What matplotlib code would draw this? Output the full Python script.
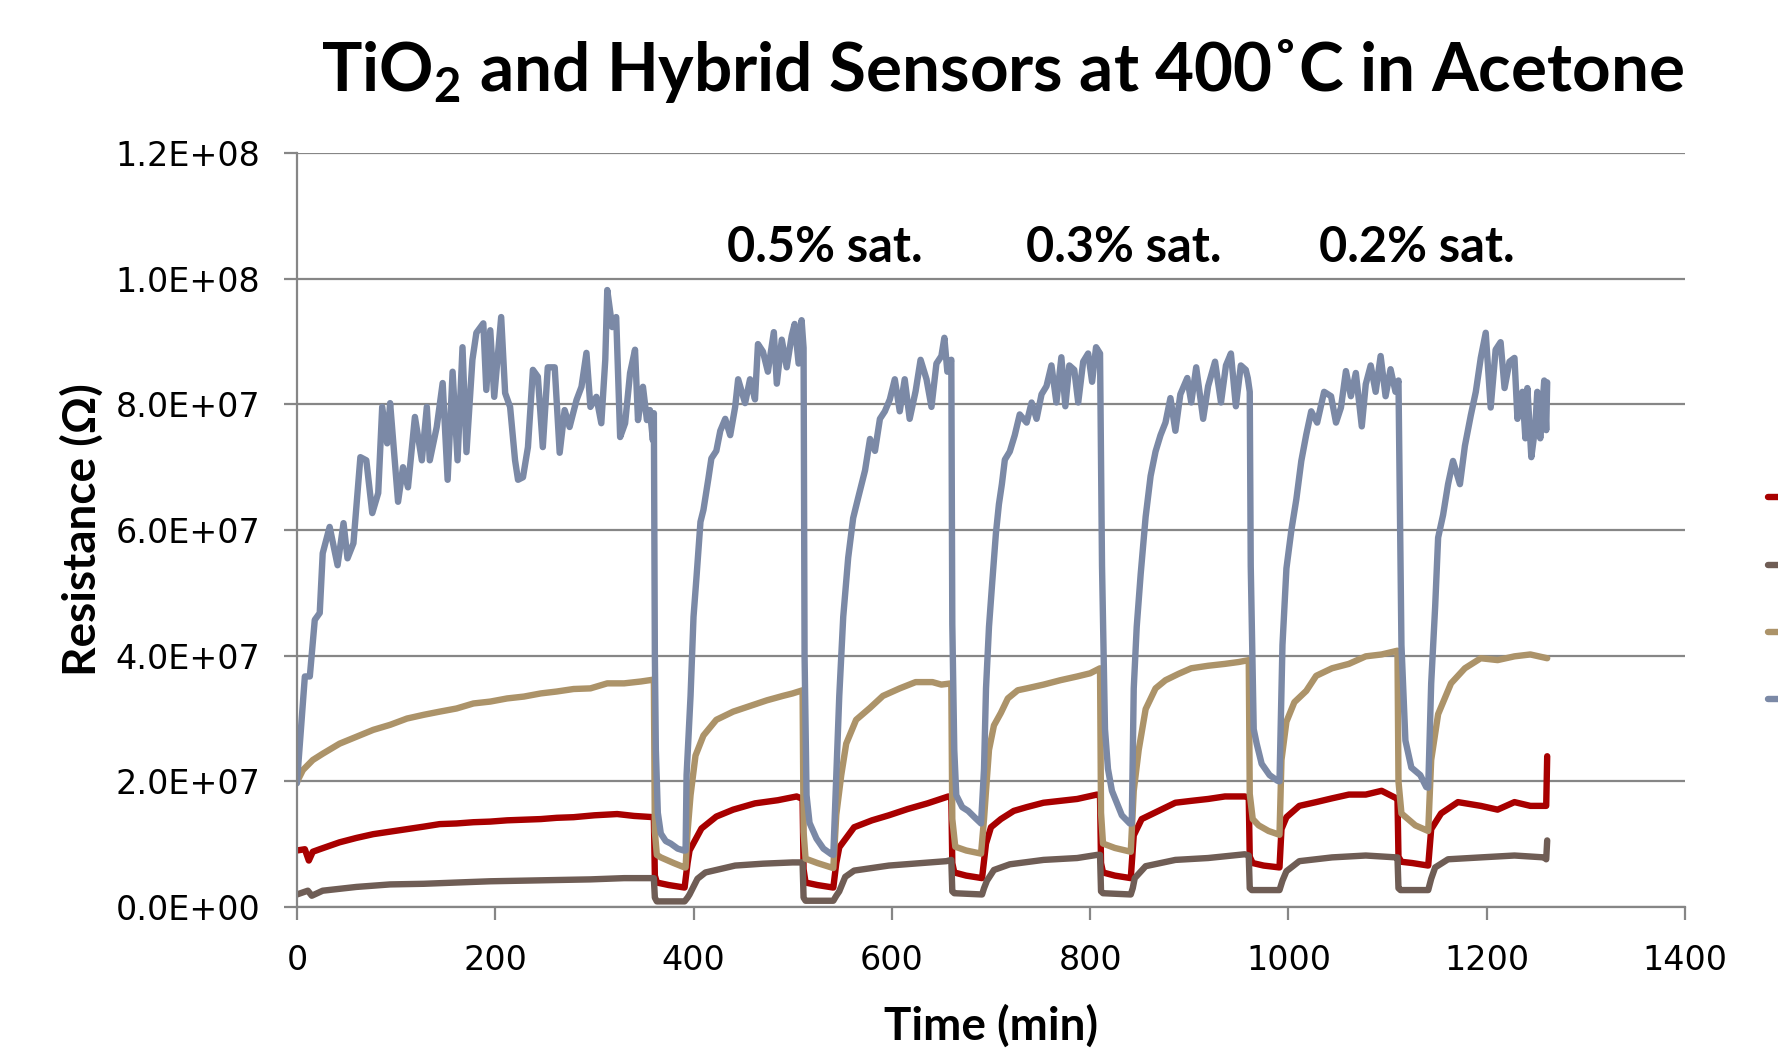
import numpy as np
import matplotlib
matplotlib.use("Agg")
import matplotlib.pyplot as plt
from matplotlib.ticker import FuncFormatter, MultipleLocator

# values, resistance in MOhm, time in min
red_t = [0, 8, 12, 16, 23, 43, 60, 77, 94, 111, 128, 144, 161, 178, 195, 212, 229, 246, 262, 279, 300, 323, 340, 360,
         361, 363, 375, 391,
         394, 396, 408, 423, 440, 462, 485, 504, 510,
         511, 513, 525, 541,
         544, 547, 562, 580, 597, 616, 636, 657, 660,
         661, 663, 675, 691,
         695, 700, 710, 723, 736, 753, 770, 787, 807, 810,
         811, 813, 825, 841,
         844, 852, 869, 886, 902, 919, 936, 956, 960,
         961, 964, 975, 991,
         993, 998, 1011, 1028, 1044, 1061, 1078, 1094, 1109, 1110,
         1111, 1114, 1125, 1141,
         1144, 1154, 1171, 1194, 1211, 1228, 1244, 1260, 1261]
red_v = [9.0, 9.2, 7.4, 8.8, 9.2, 10.3, 11.0, 11.6, 12.0, 12.4, 12.8, 13.2, 13.3, 13.5, 13.6, 13.8, 13.9, 14.0, 14.2, 14.3, 14.6, 14.8, 14.5, 14.3,
         5.0, 3.9, 3.5, 3.1,
         7.0, 9.0, 12.5, 14.4, 15.5, 16.5, 17.0, 17.6, 17.2,
         6.0, 3.9, 3.5, 3.1,
         7.0, 9.5, 12.7, 13.8, 14.6, 15.6, 16.5, 17.6, 17.4,
         7.0, 5.5, 5.0, 4.6,
         10.1, 12.7, 14.0, 15.3, 15.9, 16.6, 16.9, 17.2, 17.9, 17.6,
         7.0, 5.5, 5.0, 4.6,
         11.4, 14.0, 15.3, 16.6, 16.9, 17.2, 17.6, 17.6, 17.4,
         8.0, 7.0, 6.6, 6.3,
         12.4, 14.3, 16.1, 16.7, 17.3, 17.9, 17.9, 18.5, 17.3, 17.3,
         8.0, 7.2, 7.0, 6.6,
         12.4, 14.9, 16.7, 16.1, 15.5, 16.7, 16.1, 16.1, 24.0]

brown_t = [0, 11, 15, 26, 60, 94, 128, 161, 195, 229, 262, 296, 330, 360,
           361, 363, 391,
           394, 396, 404, 412, 442, 470, 500, 510,
           511, 513, 541,
           544, 547, 553, 562, 597, 630, 655, 660,
           661, 663, 691,
           693, 696, 703, 719, 753, 787, 807, 810,
           811, 813, 841,
           843, 845, 856, 886, 919, 956, 960,
           961, 963, 991,
           994, 998, 1011, 1044, 1078, 1109, 1110,
           1111, 1113, 1141,
           1144, 1148, 1161, 1194, 1228, 1258, 1260, 1261]
brown_v = [2.0, 2.6, 1.8, 2.6, 3.2, 3.6, 3.7, 3.9, 4.1, 4.2, 4.3, 4.4, 4.6, 4.6,
           1.5, 0.9, 0.9,
           1.5, 2.0, 4.5, 5.5, 6.6, 6.9, 7.1, 7.1,
           1.5, 1.0, 1.0,
           1.8, 2.5, 4.8, 5.8, 6.6, 7.0, 7.3, 7.5,
           2.5, 2.2, 2.0,
           3.0, 4.2, 5.9, 6.8, 7.5, 7.8, 8.3, 8.3,
           2.5, 2.2, 2.0,
           3.0, 4.6, 6.5, 7.5, 7.8, 8.4, 8.2,
           3.0, 2.7, 2.7,
           4.2, 5.7, 7.3, 7.9, 8.2, 7.9, 7.9,
           3.0, 2.7, 2.7,
           4.5, 6.3, 7.6, 7.9, 8.2, 7.9, 7.6, 10.6]

tan_t = [0, 6, 16, 26, 43, 60, 77, 94, 111, 128, 144, 161, 178, 195, 212, 229, 246, 262, 279, 296, 313, 330, 347, 360,
         361, 363, 367, 380, 391,
         392, 394, 397, 402, 410, 423, 440, 457, 474, 490, 500, 510,
         511, 513, 525, 541,
         544, 549, 554, 564, 578, 591, 608, 624, 641, 650, 660,
         661, 664, 675, 690,
         693, 695, 698, 703, 710, 717, 727, 736, 753, 770, 787, 800, 810,
         811, 813, 825, 841,
         844, 849, 856, 866, 876, 889, 902, 919, 936, 950, 960,
         961, 964, 970, 980, 991,
         993, 998, 1006, 1018, 1028, 1044, 1061, 1078, 1094, 1110,
         1111, 1114, 1128, 1141,
         1144, 1151, 1164, 1178, 1194, 1211, 1228, 1244, 1261]
tan_v = [19.9, 21.8, 23.4, 24.4, 26.0, 27.1, 28.2, 29.0, 30.0, 30.6, 31.1, 31.6, 32.4, 32.7, 33.2, 33.5, 34.0, 34.3, 34.7, 34.8, 35.6, 35.6, 35.9, 36.2,
         12.0, 8.3, 7.9, 7.0, 6.3,
         6.3, 12.0, 17.8, 24.1, 27.3, 29.8, 31.1, 32.0, 32.9, 33.6, 34.0, 34.5,
         12.0, 7.7, 7.0, 6.2,
         14.7, 21.0, 26.0, 29.8, 31.7, 33.6, 34.8, 35.8, 35.8, 35.4, 35.6,
         14.0, 9.6, 9.0, 8.5,
         14.0, 18.5, 25.0, 28.9, 30.9, 33.2, 34.5, 34.8, 35.4, 36.1, 36.7, 37.2, 38.0,
         15.0, 10.1, 9.4, 8.8,
         18.5, 25.0, 31.5, 34.8, 36.1, 37.1, 38.0, 38.4, 38.7, 39.0, 39.3,
         18.0, 14.0, 13.0, 12.1, 11.5,
         23.4, 29.5, 32.6, 34.4, 36.8, 38.0, 38.7, 39.9, 40.2, 40.8,
         20.0, 14.9, 13.0, 12.1,
         23.4, 30.7, 35.6, 38.0, 39.6, 39.3, 39.9, 40.2, 39.6]

blue_t = [0, 8, 13, 18, 23, 26, 33, 41, 47, 51, 57, 64, 70, 76, 82, 86, 91, 94, 102, 107, 112, 119, 126, 131, 134,
          141, 147, 152, 157, 162, 167, 171, 177, 181, 188, 191, 195, 199, 206, 210, 215, 220, 223, 228, 233, 238,
          243, 248, 253, 260, 265, 270, 275, 282, 287, 292, 296, 302, 307, 311, 313, 318, 322, 326, 331, 336, 341,
          344, 349, 353, 356, 359, 360,
          361, 362, 364, 367, 372, 377, 384, 390, 392,
          393, 397, 400, 403, 407, 410, 415, 418, 423, 427, 432, 437, 442, 445, 452, 457, 462, 465, 470, 475, 481,
          484, 489, 494, 499, 502, 506, 509, 511,
          512, 514, 517, 524, 531, 539, 541,
          544, 547, 551, 556, 561, 566, 573, 578, 583, 588, 593, 598, 603, 608, 613, 618, 624, 629, 635, 640, 645,
          650, 653, 656, 660,
          661, 663, 665, 671, 677, 684, 690,
          693, 695, 698, 701, 705, 708, 711, 714, 719, 724, 729, 736, 741, 746, 751, 756, 761, 766, 771, 775, 779,
          784, 788, 793, 798, 802, 806, 810,
          812, 815, 818, 822, 832, 840, 842,
          844, 847, 851, 856, 861, 866, 871, 876, 881, 886, 891, 898, 902, 907, 914, 919, 926, 932, 937, 942, 947,
          952, 957, 959, 961,
          962, 965, 968, 973, 981, 989, 991,
          994, 998, 1003, 1008, 1013, 1018, 1023, 1029, 1036, 1043, 1048, 1053, 1058, 1063, 1068, 1074, 1078, 1083,
          1088, 1093, 1098, 1103, 1108, 1111,
          1114, 1118, 1124, 1133, 1139, 1141,
          1144, 1148, 1151, 1156, 1161, 1166, 1173, 1178, 1184, 1189, 1194, 1199, 1204, 1209, 1214, 1218, 1223,
          1228, 1231, 1236, 1239, 1241, 1245, 1249, 1251, 1254, 1258, 1260, 1261]
blue_v = [19.7, 36.7, 36.7, 45.7, 46.8, 56.3, 60.5, 54.4, 61.1, 55.5, 57.9, 71.6, 71.1, 62.7, 65.9, 79.6, 73.8, 80.2,
          64.5, 70.0, 66.8, 78.0, 71.1, 79.6, 71.1,
          76.4, 83.4, 68.0, 85.2, 71.1, 89.1, 72.4, 87.1, 91.4, 92.9, 82.3, 91.8, 81.2, 93.9, 81.8, 79.6, 71.1, 68.0,
          68.4, 73.2, 85.5,
          84.4, 73.2, 85.9, 85.9, 72.3, 79.1, 76.4, 80.7, 82.8, 88.2, 79.6, 81.2, 77.0, 87.1, 98.2, 92.3, 93.9, 74.8,
          77.0, 85.0, 88.7,
          77.5, 82.8, 77.5, 79.1, 74.3, 78.6,
          40.0, 25.0, 15.0, 11.7, 10.5, 10.1, 9.3, 9.0, 9.0,
          21.0, 33.6, 46.2, 52.5, 61.3, 63.2, 68.2, 71.4, 72.6, 75.8, 77.7, 75.1, 79.6, 84.0, 80.2, 84.0, 80.8, 89.6,
          88.4, 85.2, 91.5,
          83.3, 90.3, 85.9, 90.9, 92.8, 86.5, 93.4, 89.0,
          40.0, 17.8, 13.4, 10.9, 9.3, 8.4, 8.3,
          21.0, 33.6, 46.2, 55.6, 61.9, 65.1, 69.5, 74.5, 72.6, 77.7, 78.9, 80.8, 84.0, 78.9, 84.0, 77.7, 82.1, 87.1,
          84.0, 79.6, 86.5,
          87.7, 90.6, 85.2, 87.1,
          45.0, 25.0, 17.8, 15.9, 15.3, 14.2, 13.3,
          22.0, 34.8, 44.6, 51.1, 59.5, 64.1, 67.3, 71.2, 72.5, 75.1, 78.4, 77.1, 80.3, 77.7, 81.6, 82.9, 86.2, 80.3,
          87.5, 79.7, 86.2,
          85.5, 80.3, 86.8, 88.1, 83.6, 89.1, 88.1,
          54.3, 28.3, 22.0, 18.5, 14.6, 13.3, 13.3,
          34.8, 44.6, 53.0, 62.1, 68.6, 72.5, 75.1, 77.1, 81.0, 75.8, 81.6, 84.2, 80.3, 85.9, 77.7, 82.9, 86.8, 80.3,
          86.2, 88.1, 79.7,
          86.2, 85.5, 84.2, 82.0,
          54.3, 28.3, 26.0, 22.8, 21.0, 20.1, 20.0,
          41.7, 53.9, 60.0, 64.9, 71.0, 75.2, 78.9, 77.1, 82.0, 81.3, 77.1, 79.5, 85.3, 81.3, 85.0, 76.5, 83.2, 86.2,
          82.0, 87.7, 81.3, 85.6, 82.0, 83.8,
          41.7, 26.5, 22.2, 21.0, 19.1, 19.0,
          35.6, 47.8, 58.8, 62.4, 67.3, 71.0, 67.3, 73.4, 78.3, 82.0, 87.4, 91.4, 79.5, 88.7, 89.9, 82.6, 86.8,
          87.4, 77.7, 82.0, 74.6, 82.6, 71.6, 76.5, 82.0, 74.6, 83.8, 75.9, 83.5]

# legend text sits outside the picture in the reference, only the keys show
series_colors = ["#A80000", "#6F5D55", "#AC9369", "#7B89A6"]

conc_labels = ["0.5% sat.", "0.3% sat.", "0.2% sat."]
conc_t = [532, 834, 1129]
conc_y = 105e6

title_font = ["Lato", "DejaVu Sans"]
tick_font = ["DejaVu Sans"]
grid_c = "#868686"

fig = plt.figure(figsize=(17.78, 10.52), dpi=100)
ax = fig.add_axes([0.1670, 0.1378, 0.7807, 0.7167])

all_t = [red_t, brown_t, tan_t, blue_t]
all_v = [red_v, brown_v, tan_v, blue_v]
handles = []
for t, v, c in zip(all_t, all_v, series_colors):
    h, = ax.plot(t, np.array(v) * 1e6, color=c, lw=4.6,
                 solid_joinstyle="round", solid_capstyle="round")
    handles.append(h)

ax.set_xlim(0, 1400)
ax.set_ylim(0, 1.2e8)
ax.xaxis.set_major_locator(MultipleLocator(200))
ax.yaxis.set_major_locator(MultipleLocator(2e7))
ax.yaxis.set_major_formatter(FuncFormatter(lambda v, p: f"{v:.1E}"))
ax.grid(axis="y", color=grid_c, lw=1.6)
ax.set_axisbelow(True)
for s in ["top", "right"]:
    ax.spines[s].set_visible(False)
for s in ["left", "bottom"]:
    ax.spines[s].set_color(grid_c)
    ax.spines[s].set_linewidth(1.6)
ax.tick_params(axis="both", direction="out", length=9.5, width=1.6, color=grid_c,
               labelsize=24, pad=17)
for lbl in ax.get_xticklabels() + ax.get_yticklabels():
    lbl.set_family(tick_font)

ax.set_xlabel("Time (min)", fontsize=33, fontweight="bold", family=title_font, va="center")
ax.set_ylabel("Resistance (Ω)", fontsize=33, fontweight="bold", family=title_font, va="center")
ax.xaxis.set_label_coords(0.5, -0.158)
ax.yaxis.set_label_coords(-0.1545, 0.5)

for lab, t in zip(conc_labels, conc_t):
    ax.text(t, conc_y, lab, fontsize=35, fontweight="bold", family=title_font,
            ha="center", va="center")

fig.text(0.5636, 0.9135, r"TiO$_\mathregular{2}$ and Hybrid Sensors at 400˚C in Acetone",
         fontsize=48.5, fontweight="bold", family=title_font, ha="center", va="baseline")

fig.legend(handles, [""] * len(handles), loc="center left",
           bbox_to_anchor=(1768 / 1778, 1 - 600 / 1052),
           frameon=False, fontsize=20, labelspacing=1.42, borderpad=0, borderaxespad=0,
           handlelength=2.0)

fig.savefig("out.png", dpi=100)
